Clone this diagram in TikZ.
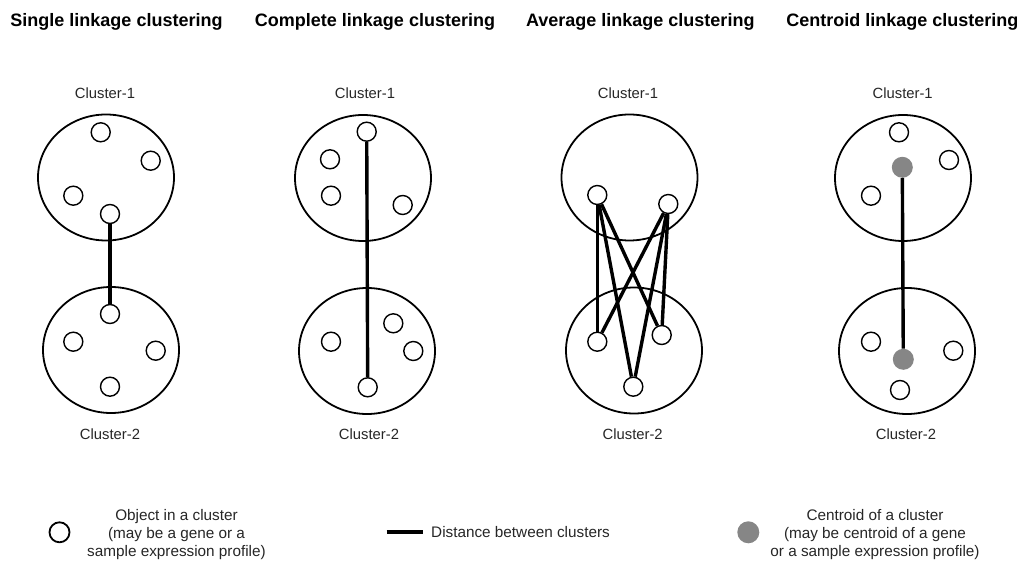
\documentclass[tikz,border=0pt]{standalone}
\usepackage{fontspec}
\setmainfont{Liberation Sans}
\usetikzlibrary{shapes.geometric}
\begin{document}
\begin{tikzpicture}[x=1pt,y=-1pt,
  obj/.style={circle,draw,line width=1.4pt,minimum size=19pt,inner sep=0pt,fill=white},
  cen/.style={circle,fill=gray!95,minimum size=21pt,inner sep=0pt},
  clus/.style={ellipse,draw,line width=1.8pt,minimum width=136pt,minimum height=126pt,inner sep=0pt},
  link/.style={line width=3.4pt},
  ttl/.style={font=\bfseries\fontsize{18}{20}\selectfont,anchor=base,inner sep=0pt},
  clab/.style={font=\fontsize{14.8}{17}\selectfont,anchor=base,inner sep=0pt,text=black!85},
  leg/.style={font=\fontsize{15.3}{18}\selectfont,align=center,inner sep=0pt,text=black!85}]
\useasboundingbox (0,0) rectangle (1025,561);
% titles
\node[ttl] (t1) at (116.5,26.5) {Single linkage clustering};
\node[ttl] (t2) at (375,26.5) {Complete linkage clustering};
\node[ttl] (t3) at (640.3,26.5) {Average linkage clustering};
\node[ttl] (t4) at (902.3,26.5) {Centroid linkage clustering};
% ---------- panel 1 ----------
\node[clab] (a1l) at (105,99) {Cluster-1};
\node[clus] (a1) at (106,177.5) {};
\node[clus] (a2) at (111,350) {};
\node[clab] (a2l) at (110,439) {Cluster-2};
\node[obj] (a11) at (100.7,132.3) {};
\node[obj] (a12) at (150.7,160.7) {};
\node[obj] (a13) at (73.3,195.7) {};
\node[obj] (a14) at (110,214) {};
\node[obj] (a21) at (110,314) {};
\node[obj] (a22) at (73.3,341.7) {};
\node[obj] (a23) at (155.7,350.7) {};
\node[obj] (a24) at (110,386.7) {};
\draw[link] (a14) -- (a21);
% ---------- panel 2 ----------
\node[clab] (b1l) at (365,99) {Cluster-1};
\node[clus] (b1) at (363,178) {};
\node[clus] (b2) at (367,351) {};
\node[clab] (b2l) at (369,439) {Cluster-2};
\node[obj] (b11) at (366.7,131.7) {};
\node[obj] (b12) at (330,159.3) {};
\node[obj] (b13) at (331,195.7) {};
\node[obj] (b14) at (402.7,205) {};
\node[obj] (b21) at (393.3,323.3) {};
\node[obj] (b22) at (331,341.7) {};
\node[obj] (b23) at (413.3,351) {};
\node[obj] (b24) at (367.7,387.3) {};
\draw[link] (b11) -- (b24);
% ---------- panel 3 ----------
\node[clab] (c1l) at (628,99) {Cluster-1};
\node[clus] (c1) at (629.5,177.5) {};
\node[clus] (c2) at (634,350.5) {};
\node[clab] (c2l) at (632.7,439) {Cluster-2};
\node[obj] (cA) at (597.3,195) {};
\node[obj] (cB) at (668.3,204) {};
\node[obj] (cC) at (597.3,341.7) {};
\node[obj] (cD) at (661.7,335) {};
\node[obj] (cE) at (633.3,386.7) {};
\draw[link] (cA) -- (cC);
\draw[link] (cA) -- (cE);
\draw[link] (cA) -- (cD);
\draw[link] (cB) -- (cC);
\draw[link] (cB) -- (cE);
\draw[link] (cB) -- (cD);
% ---------- panel 4 ----------
\node[clab] (d1l) at (902.7,99) {Cluster-1};
\node[clus] (d1) at (903,178) {};
\node[clus] (d2) at (907,351) {};
\node[clab] (d2l) at (906,439) {Cluster-2};
\node[obj] (d11) at (899,132.3) {};
\node[obj] (d12) at (949,160) {};
\node[obj] (d13) at (871,195.7) {};
\node[cen] (dc1) at (902.3,167.3) {};
\node[obj] (d21) at (871,341.7) {};
\node[obj] (d22) at (953.3,350.7) {};
\node[cen] (dc2) at (903.3,359.3) {};
\node[obj] (d23) at (900,390) {};
\draw[link] (dc1) -- (dc2);
% ---------- legend ----------
\node[obj,minimum size=20pt,line width=1.8pt] (lo) at (59.5,532.3) {};
\node[leg] (lot) at (176.5,535) {Object in a cluster\\(may be a gene or a\\sample expression profile)};
\coordinate (ll1) at (386.7,532.3);
\coordinate (ll2) at (423.3,532.3);
\draw[line width=4pt] (ll1) -- (ll2);
\node[leg,anchor=west] (llt) at (431,532.3) {Distance between clusters};
\node[cen,minimum size=22pt] (lc) at (748.3,532.3) {};
\node[leg] (lct) at (875,535) {Centroid of a cluster\\(may be centroid of a gene\\or a sample expression profile)};
\end{tikzpicture}
\end{document}
